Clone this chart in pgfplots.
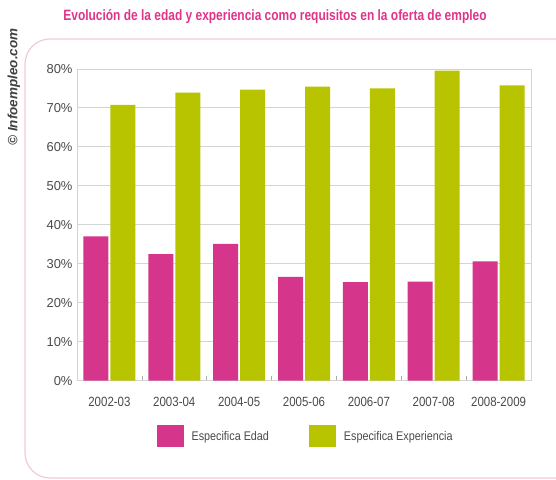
\documentclass[border=0pt]{standalone}
\usepackage{pgfplots}
\pgfplotsset{compat=1.18}
\usepackage{fontspec}
\setmainfont{Liberation Sans}[FakeStretch=0.86]
\newfontfamily\titlefont{Liberation Sans}[FakeStretch=0.80]
\newfontfamily\plainfont{Liberation Sans}
\definecolor{edad}{HTML}{D6358C}
\definecolor{exper}{HTML}{B8C400}
\definecolor{gridc}{HTML}{D4D4D4}
\definecolor{txt}{HTML}{4A4A4A}
\definecolor{titlec}{HTML}{E0348A}
\definecolor{framec}{HTML}{F2C9D9}

\begin{document}
\begin{tikzpicture}[x=1bp,y=1bp]
\path[use as bounding box] (0,0) rectangle (556,480);
\begin{scope}
  \clip (0,0) rectangle (556,480);
  \draw[framec, line width=1.2bp, rounded corners=25bp] (25,2) rectangle (600,441);
\end{scope}
\node[text=titlec, font=\titlefont\bfseries\fontsize{15}{17}\selectfont] at (275,463)
  {Evolución de la edad y experiencia como requisitos en la oferta de empleo};
\node[rotate=90, text=black!75, font=\plainfont\bfseries\itshape\fontsize{13.5}{15}\selectfont] at (14,393)
  {© Infoempleo.com};
\begin{axis}[
    at={(77bp,99.4bp)}, anchor=south west,
    scale only axis, width=454bp, height=311.6bp,
    ybar, bar width=25bp,
    ymin=0, ymax=80, xmin=-0.5, xmax=6.5,
    xtick={0,...,6},
    xticklabels={2002-03,2003-04,2004-05,2005-06,2006-07,2007-08,2008-2009},
    major x tick style={draw=none},
    minor xtick={0.5,1.5,...,5.5},
    minor tick length=5bp,
    minor x tick style={gridc!80!black, line width=0.6bp},
    tick align=inside, xtick pos=left,
    ytick={0,10,...,80},
    yticklabels={0\%,10\%,20\%,30\%,40\%,50\%,60\%,70\%,80\%},
    y tick style={draw=none},
    ymajorgrids, grid style={gridc, line width=0.9bp},
    axis line style={gridc, line width=0.9bp},
    xticklabel style={text=txt, font=\fontsize{13.4}{15}\selectfont, yshift=-13bp},
    yticklabel style={text=txt, font=\plainfont\fontsize{13}{15}\selectfont, xshift=-1bp},
    legend style={at={(0.5035,-0.179)}, anchor=center, draw=none, fill=none,
      legend columns=2, text=txt, font=\fontsize{12.6}{14}\selectfont,
      /tikz/every odd column/.append style={column sep=6bp},
      /tikz/every even column/.append style={column sep=38bp}},
]
\addplot[fill=edad, draw=none,
  legend image code/.code={\fill[edad] (0bp,-11bp) rectangle (27bp,11bp);}]
  coordinates {(0,37.0) (1,32.5) (2,35.1) (3,26.6) (4,25.3) (5,25.4) (6,30.6)};
\addlegendentry{Especifica Edad}
\addplot[fill=exper, draw=none,
  legend image code/.code={\fill[exper] (0bp,-11bp) rectangle (27bp,11bp);}]
  coordinates {(0,70.8) (1,73.9) (2,74.7) (3,75.5) (4,75.0) (5,79.6) (6,75.8)};
\addlegendentry{Especifica Experiencia}
\end{axis}
\end{tikzpicture}
\end{document}
